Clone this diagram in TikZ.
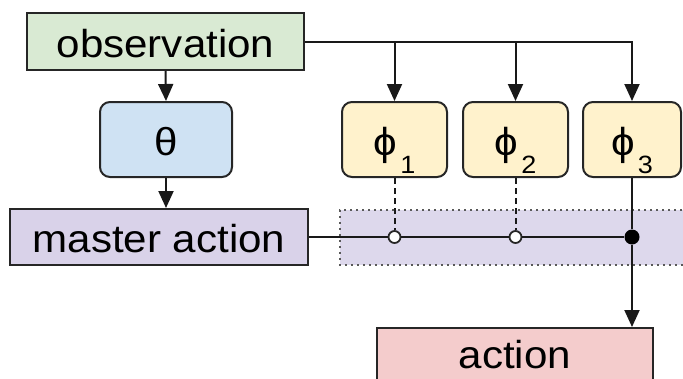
\documentclass[tikz,border=0pt]{standalone}
\usepackage{fontspec}
\setmainfont[FakeStretch=1.08]{Liberation Sans}
\usetikzlibrary{arrows.meta}

\definecolor{obsgreen}{HTML}{D9EAD3}
\definecolor{thetablue}{HTML}{CFE2F3}
\definecolor{masterpurple}{HTML}{D9D2E9}
\definecolor{bandpurple}{HTML}{DDD8EC}
\definecolor{phiyellow}{HTML}{FFF2CC}
\definecolor{actionred}{HTML}{F4CCCC}

\tikzset{
  box/.style={draw=black!85, line width=2pt, fill=#1, inner sep=0pt,
    text height=31pt, text depth=0pt, font=\fontsize{39}{39}\selectfont},
  roundbox/.style={box=#1, rounded corners=10pt},
  wire/.style={line width=2pt, black!90},
  link/.style={wire, -{Triangle[width=15pt,length=17pt]}},
  mixopen/.style={circle, draw=black!85, fill=white, line width=1.8pt,
    inner sep=0pt, minimum size=12pt},
  mixdot/.style={circle, fill=black, inner sep=0pt, minimum size=15pt},
}
\newcommand{\phisub}[1]{ϕ\hspace{3pt}\raisebox{-18pt}{\fontsize{25}{25}\selectfont #1}}

\begin{document}
\begin{tikzpicture}[x=1pt,y=-1pt]
\useasboundingbox (0,0) rectangle (683,378);
\clip (0,0) rectangle (683,378);

% shaded strip behind the mixing line
\fill[bandpurple] (340,210) rectangle (700,265);
\draw[black!65, line width=1.6pt, dash pattern=on 1.8pt off 4.2pt]
  (700,210) -- (340,210) -- (340,265) -- (700,265);

\node[box=obsgreen, minimum width=277pt, minimum height=57pt] (obs) at (165.5,41.5) {observation};
\node[roundbox=thetablue, minimum width=132pt, minimum height=75pt] (theta) at (166,139.5) {θ};
\node[box=masterpurple, minimum width=298pt, minimum height=56pt] (master) at (159,237) {master action};

\node[roundbox=phiyellow, minimum width=105pt, minimum height=75pt] (phi1) at (394.5,139.5) {\phisub{1}};
\node[roundbox=phiyellow, minimum width=105pt, minimum height=75pt] (phi2) at (515.5,139.5) {\phisub{2}};
\node[roundbox=phiyellow, minimum width=98pt, minimum height=75pt] (phi3) at (632,139.5) {\phisub{3}};

\node[box=actionred, minimum width=276pt, minimum height=57pt, anchor=north, text height=23pt] (action) at (515,327) {action};

% mixing points
\node[mixopen] (m1) at (phi1.south |- master.east) {};
\node[mixopen] (m2) at (phi2.south |- master.east) {};
\node[mixdot] (m3) at (phi3.south |- master.east) {};

\draw[link] (obs.south) -- (theta.north);
\draw[link] (theta.south) -- (theta.south |- master.north);
\draw[link] (obs.east) -| (phi3.north);
\draw[link] (obs.east -| phi1.north) -- (phi1.north);
\draw[link] (obs.east -| phi2.north) -- (phi2.north);

\draw[wire, dash pattern=on 6pt off 4pt] (phi1.south) -- (m1);
\draw[wire, dash pattern=on 6pt off 4pt] (phi2.south) -- (m2);
\draw[wire] (master.east) -- (m1) -- (m2) -- (m3);
\draw[wire] (phi3.south) -- (m3);
\draw[link] (m3) -- (m3 |- action.north);
\end{tikzpicture}
\end{document}
